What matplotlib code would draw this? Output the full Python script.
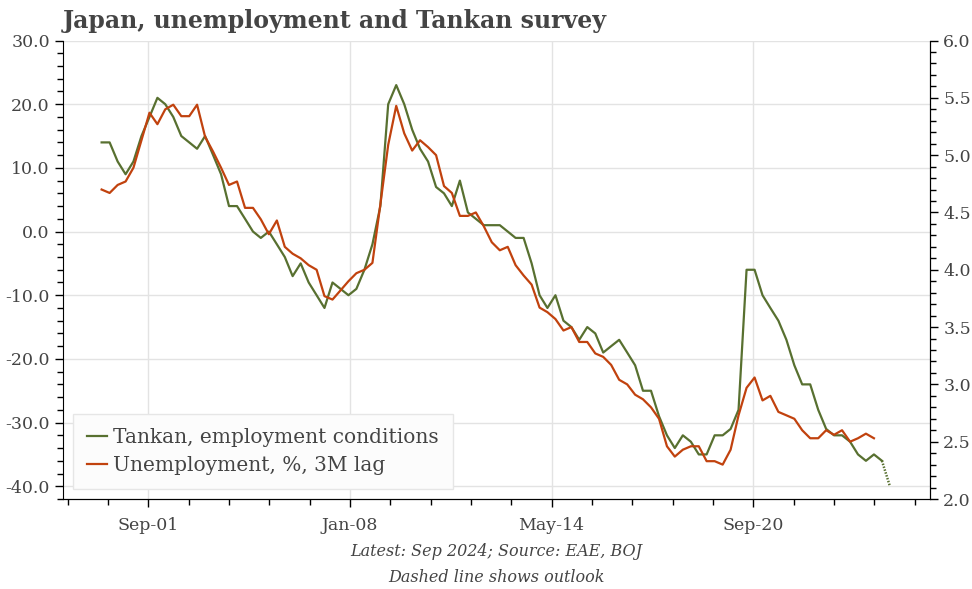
import pandas as pd
import matplotlib.pyplot as plt
import matplotlib.dates as mdates
import numpy as np

plt.rcParams['font.family'] = ['DejaVu Serif']

# Tankan employment conditions DI, quarterly, Mar 2000 - Sep 2024
tankan = [14, 14, 11, 9, 11, 15, 18, 21, 20, 18,
          15, 14, 13, 15, 12, 9, 4, 4, 2, 0,
          -1, 0, -2, -4, -7, -5, -8, -10, -12, -8,
          -9, -10, -9, -6, -2, 4, 20, 23, 20, 16,
          13, 11, 7, 6, 4, 8, 3, 2, 1, 1,
          1, 0, -1, -1, -5, -10, -12, -10, -14, -15,
          -17, -15, -16, -19, -18, -17, -19, -21, -25, -25,
          -29, -32, -34, -32, -33, -35, -35, -32, -32, -31,
          -28, -6, -6, -10, -12, -14, -17, -21, -24, -24,
          -28, -31, -32, -32, -33, -35, -36, -35, -36]
# outlook for Dec 2024
tankan_outlook = [-36, -40]

# unemployment rate, %, 3M lag, Mar 2000 - Jun 2024
unemployment = [4.70, 4.67, 4.74, 4.77, 4.89, 5.13, 5.37, 5.27, 5.40, 5.44,
                5.34, 5.34, 5.44, 5.16, 5.03, 4.89, 4.74, 4.77, 4.54, 4.54,
                4.44, 4.31, 4.43, 4.20, 4.14, 4.10, 4.04, 4.00, 3.77, 3.74,
                3.82, 3.90, 3.97, 4.00, 4.06, 4.57, 5.09, 5.43, 5.19, 5.04,
                5.13, 5.07, 5.00, 4.73, 4.67, 4.47, 4.47, 4.50, 4.38, 4.24,
                4.17, 4.20, 4.04, 3.95, 3.87, 3.67, 3.63, 3.57, 3.47, 3.50,
                3.37, 3.37, 3.27, 3.24, 3.17, 3.04, 3.00, 2.91, 2.87, 2.80,
                2.70, 2.46, 2.37, 2.43, 2.46, 2.46, 2.33, 2.33, 2.30, 2.43,
                2.73, 2.97, 3.06, 2.86, 2.90, 2.76, 2.73, 2.70, 2.60, 2.53,
                2.53, 2.60, 2.56, 2.60, 2.50, 2.53, 2.57, 2.53]

dates = pd.date_range('2000-03-01', periods=len(tankan), freq='QS-MAR') + pd.Timedelta(days=14)
outlook_dates = [dates[-1], dates[-1] + pd.DateOffset(months=3)]
unemp_dates = dates[:len(unemployment)]

major_dates = pd.to_datetime(['2001-09-01', '2008-01-01', '2014-05-01', '2020-09-01'])
major_labels = ['Sep-01', 'Jan-08', 'May-14', 'Sep-20']

green = '#587030'
red = '#c1420e'
text_col = '#444444'
grid_col = '#e3e3e3'

fig = plt.figure(figsize=(9.72, 5.89), dpi=100)
ax = fig.add_axes([0.0648, 0.1528, 0.892, 0.7784])
ax2 = ax.twinx()

ax.plot(dates, tankan, color=green, lw=1.6, label='Tankan, employment conditions', zorder=3)
ax.plot(outlook_dates, tankan_outlook, color=green, lw=1.8, ls=(0, (0.6, 0.6)), zorder=3)
ax2.plot(unemp_dates, unemployment, color=red, lw=1.6, zorder=3)
ax.plot([], [], color=red, lw=1.6, label='Unemployment, %, 3M lag')

# axes ranges
ax.set_ylim(-42, 30)
ax2.set_ylim(2, 6)
ax.set_xlim(pd.Timestamp('1998-12-28'), pd.Timestamp('2026-03-20'))

ax.set_yticks(np.arange(-40, 31, 10))
ax.set_yticks(np.arange(-42, 31, 2), minor=True)
ax.set_yticklabels([f'{v:.1f}' for v in np.arange(-40, 31, 10)])
ax2.set_yticks(np.arange(2, 6.01, 0.5))
ax2.set_yticks(np.arange(2, 6.01, 0.1), minor=True)
ax2.set_yticklabels([f'{v:.1f}' for v in np.arange(2, 6.01, 0.5)])

major_num = mdates.date2num(major_dates)
step = (major_num[-1] - major_num[0]) / 15
minor_num = [major_num[0] + k * step for k in range(-2, 20) if k % 5 != 0]
ax.set_xticks(major_num)
ax.set_xticklabels(major_labels)
ax.set_xticks(minor_num, minor=True)

ax.grid(True, which='major', color=grid_col, lw=1)
ax.set_axisbelow(True)

for a in (ax, ax2):
    a.spines['top'].set_visible(False)
    a.tick_params(which='major', length=6, width=1, colors='black', labelcolor=text_col, labelsize=12.5)
    a.tick_params(which='minor', length=4, width=1, colors='black')
ax.tick_params(axis='x', pad=7)
ax2.spines['left'].set_visible(False)

leg = ax.legend(loc='lower left', bbox_to_anchor=(0.0115, 0.0218), borderaxespad=0,
                fontsize=14.5, handlelength=1.0, handletextpad=0.3, labelspacing=0.45,
                fancybox=False, framealpha=1, facecolor='#fcfcfc', edgecolor='#e6e6e6',
                borderpad=0.7)
for t in leg.get_texts():
    t.set_color(text_col)

fig.text(0.0648, 0.964, 'Japan, unemployment and Tankan survey', fontsize=17,
         fontweight='bold', color=text_col, ha='left', va='center')
fig.text(0.511, 0.063, 'Latest: Sep 2024; Source: EAE, BOJ', fontsize=11.5, style='italic',
         color=text_col, ha='center', va='center')
fig.text(0.511, 0.019, 'Dashed line shows outlook', fontsize=11.5, style='italic',
         color=text_col, ha='center', va='center')

fig.savefig('out.png', dpi=100)
